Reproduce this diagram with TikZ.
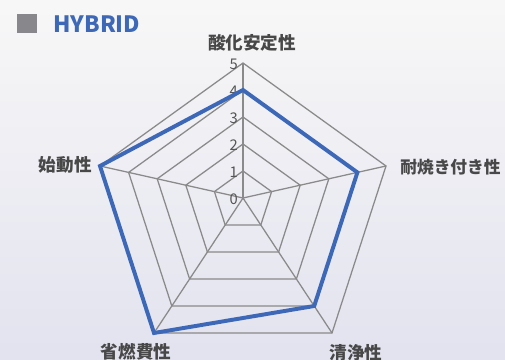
\documentclass[tikz,border=0pt]{standalone}
\usepackage{fontspec}
\setmainfont{Noto Sans CJK JP}
\usetikzlibrary{calc}
\definecolor{chartblue}{RGB}{61,104,184}
\definecolor{gridgray}{RGB}{138,138,138}
\definecolor{labelgray}{RGB}{72,72,72}
\definecolor{tickgray}{RGB}{85,85,85}
\definecolor{boxgray}{RGB}{136,136,140}

\begin{document}
\begin{tikzpicture}[x=0.025cm,y=-0.025cm,
    grid/.style={draw=gridgray,line width=0.9pt},
    series/.style={draw=chartblue,line width=2.8pt,line join=miter},
    axislabel/.style={text=labelgray,inner sep=0pt,font=\fontsize{12.5}{14}\selectfont\bfseries},
    ticklabel/.style={text=tickgray,inner sep=0pt,anchor=east,font=\fontsize{10.5}{12}\selectfont}]
    % background
    \shade[top color=white!94!gray,bottom color=white!87!gray!95!blue] (0,0) rectangle (505,360);
    \useasboundingbox (0,0) rectangle (505,360);
    % legend
    \fill[boxgray] (17,14) rectangle (37,33);
    \node[text=chartblue,inner sep=0pt,anchor=west,font=\fontsize{16}{18}\selectfont\bfseries] (title) at (53,24) {HYBRID};
    % chart axes
    \coordinate (C) at (243,198);
    \begin{scope}[shift={(C)}]
        \foreach \k in {1,...,5}
            \draw[grid,scale=\k/5] (0,-135) -- (143,-32) -- (89,135) -- (-89,135) -- (-143,-32) -- cycle;
        \coordinate (T) at (0,-135);
        \coordinate (R) at (143,-32);
        \coordinate (BR) at (89,135);
        \coordinate (BL) at (-89,135);
        \coordinate (L) at (-143,-32);
    \end{scope}
    \draw[grid] (C) -- (T);
    \draw[grid] (C) -- (R);
    \draw[grid] (C) -- (BR);
    \draw[grid] (C) -- (BL);
    \draw[grid] (C) -- (L);
    % scale values
    \foreach \k in {0,...,5}
        \node[ticklabel] (tick\k) at (238,199-27*\k) {\k};
    % data
    \draw[series] ($(C)!0.8!(T)$) -- ($(C)!0.8!(R)$) -- ($(C)!0.8!(BR)$) -- (BL) -- (L) -- cycle;
    % categories
    \node[axislabel] (oxid) at (252,43) {酸化安定性};
    \node[axislabel,anchor=west,font=\fontsize{11.9}{14}\selectfont\bfseries] (seize) at (400,167) {耐焼き付き性};
    \node[axislabel] (clean) at (356,353) {清浄性};
    \node[axislabel] (fuel) at (136,352) {省燃費性};
    \node[axislabel,anchor=east] (start) at (92,165) {始動性};
\end{tikzpicture}
\end{document}
